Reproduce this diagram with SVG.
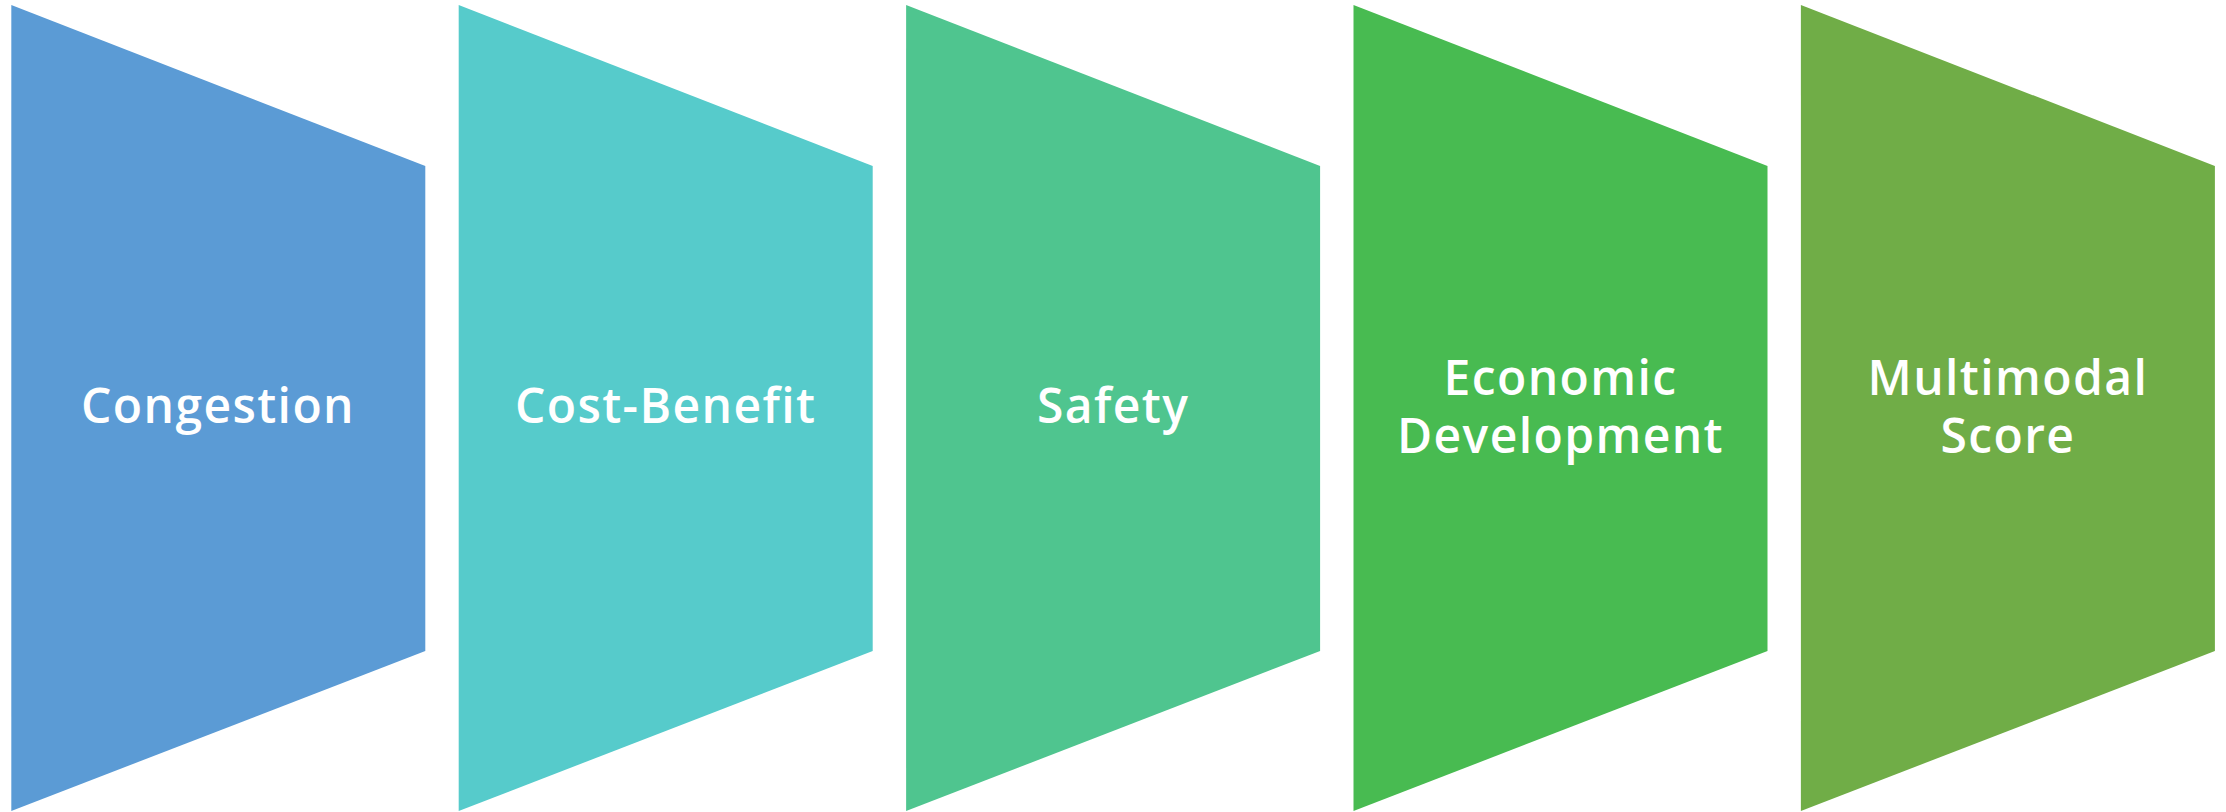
<svg xmlns="http://www.w3.org/2000/svg" width="2226" height="812" viewBox="0 0 2226 812">
<style>
.lbl{font-family:"Open Sans","Noto Sans","Liberation Sans",sans-serif;font-size:48px;font-weight:600;letter-spacing:1.4px;fill:#fff;text-anchor:middle}
</style>
<defs>
<polygon id="chev" points="0,5 414,166 414,651 0,811"/>
</defs>
<rect width="2226" height="812" fill="#fff"/>
<g id="node1"><use href="#chev" x="11.3" fill="#5B9BD5"/><text class="lbl" x="218" y="423">Congestion</text></g>
<g id="node2"><use href="#chev" x="458.7" fill="#56CBCB"/><text class="lbl" x="665.7" y="423">Cost-Benefit</text></g>
<g id="node3"><use href="#chev" x="906.1" fill="#4FC58F"/><text class="lbl" x="1113.1" y="423">Safety</text></g>
<g id="node4"><use href="#chev" x="1353.5" fill="#48BB51"/><text class="lbl" x="1560.5" y="395">Economic</text><text class="lbl" x="1560.5" y="453">Development</text></g>
<g id="node5"><use href="#chev" x="1800.9" fill="#70AD47"/><text class="lbl" x="2007.9" y="395">Multimodal</text><text class="lbl" x="2007.9" y="453">Score</text></g>
<g id="connectors"></g>
</svg>
